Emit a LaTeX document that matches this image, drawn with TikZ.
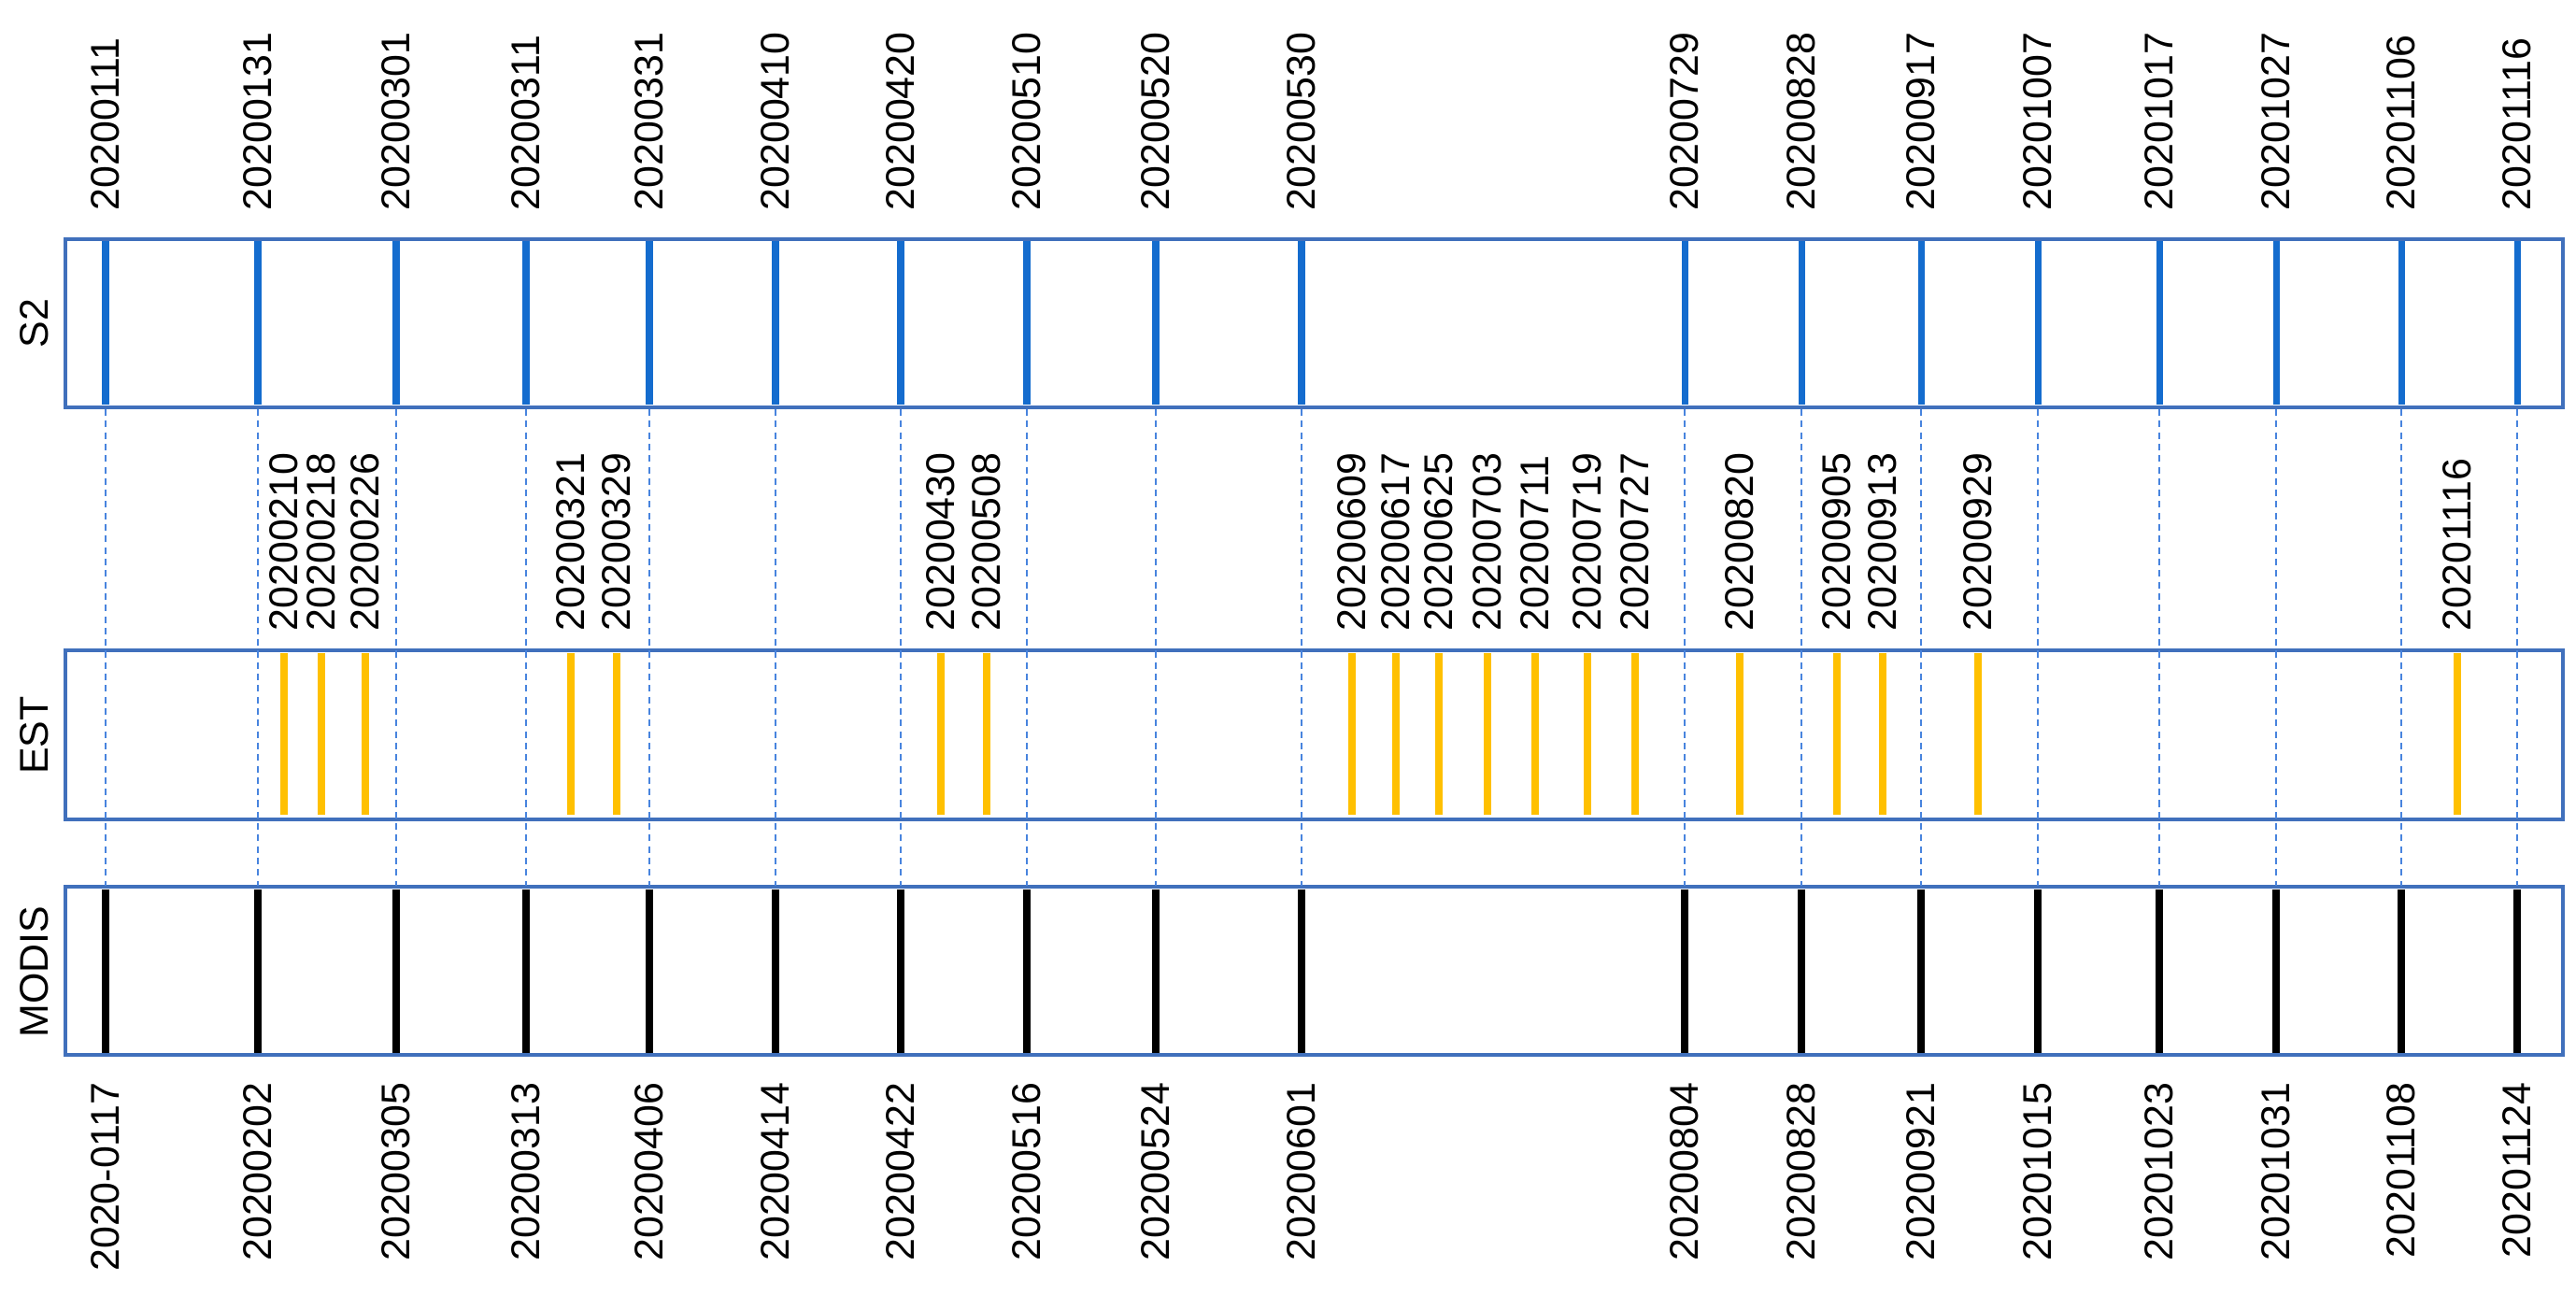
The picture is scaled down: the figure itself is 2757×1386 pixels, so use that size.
\documentclass[tikz,border=0pt]{standalone}
\usepackage{fontspec}
\setmainfont{Liberation Sans}
\definecolor{boxblue}{RGB}{64,112,188}
\definecolor{s2blue}{RGB}{20,108,206}
\definecolor{dashblue}{RGB}{72,132,222}
\definecolor{estyellow}{RGB}{255,192,0}
\begin{document}
\begin{tikzpicture}[x=0.01cm,y=-0.01cm,
  font=\fontsize{12.2}{14}\selectfont,
  panel/.style={draw=boxblue, line width=1.1pt},
  s2bar/.style={draw=s2blue, line width=2pt},
  estbar/.style={draw=estyellow, line width=2.2pt},
  modbar/.style={draw=black, line width=2.2pt},
  guide/.style={draw=dashblue, line width=0.6pt, dash pattern=on 2pt off 1.5pt},
  lbl/.style={rotate=90, inner sep=0pt}]
\useasboundingbox (0,0) rectangle (2757,1386);
% panels
\draw[panel] (70,256) rectangle (2743,436);
\draw[panel] (70,696) rectangle (2743,877);
\draw[panel] (70,949) rectangle (2743,1129);
\node[lbl] (nS2) at (37,346) {S2};
\node[lbl] (nEST) at (37,787) {EST};
\node[lbl] (nMOD) at (37,1040) {MODIS};
% S2 and MODIS columns
\foreach \x/\toplab/\botlab [count=\i] in {
  113/20200111/2020-0117, 276/20200131/20200202, 424/20200301/20200305,
  563/20200311/20200313, 695/20200331/20200406, 830/20200410/20200414,
  964/20200420/20200422, 1099/20200510/20200516, 1237/20200520/20200524,
  1393/20200530/20200601, 1803/20200729/20200804, 1928/20200828/20200828,
  2056/20200917/20200921, 2181/20201007/20201015, 2311/20201017/20201023,
  2436/20201027/20201031, 2570/20201106/20201108, 2694/20201116/20201124} {
  \coordinate (s\i) at (\x,438);
  \coordinate (m\i) at (\x,948);
  \draw[guide] (s\i) -- (m\i);
  \draw[s2bar] (\x,258) -- (\x,433);
  \draw[modbar] (\x,952) -- (\x,1127);
  \node[lbl, anchor=west] (t\i) at (\x,226) {\toplab};
  \node[lbl, anchor=east] (b\i) at (\x,1158) {\botlab};
}
% EST acquisitions
\foreach \x/\lab [count=\j] in {
  304/20200210, 344/20200218, 391/20200226, 611/20200321, 660/20200329,
  1007/20200430, 1056/20200508, 1447/20200609, 1494/20200617, 1540/20200625,
  1592/20200703, 1643/20200711, 1699/20200719, 1750/20200727, 1862/20200820,
  1966/20200905, 2015/20200913, 2117/20200929, 2630/20201116} {
  \draw[estbar] (\x,699) -- (\x,872);
  \node[lbl, anchor=west] (e\j) at (\x,676) {\lab};
}
\end{tikzpicture}
\end{document}
